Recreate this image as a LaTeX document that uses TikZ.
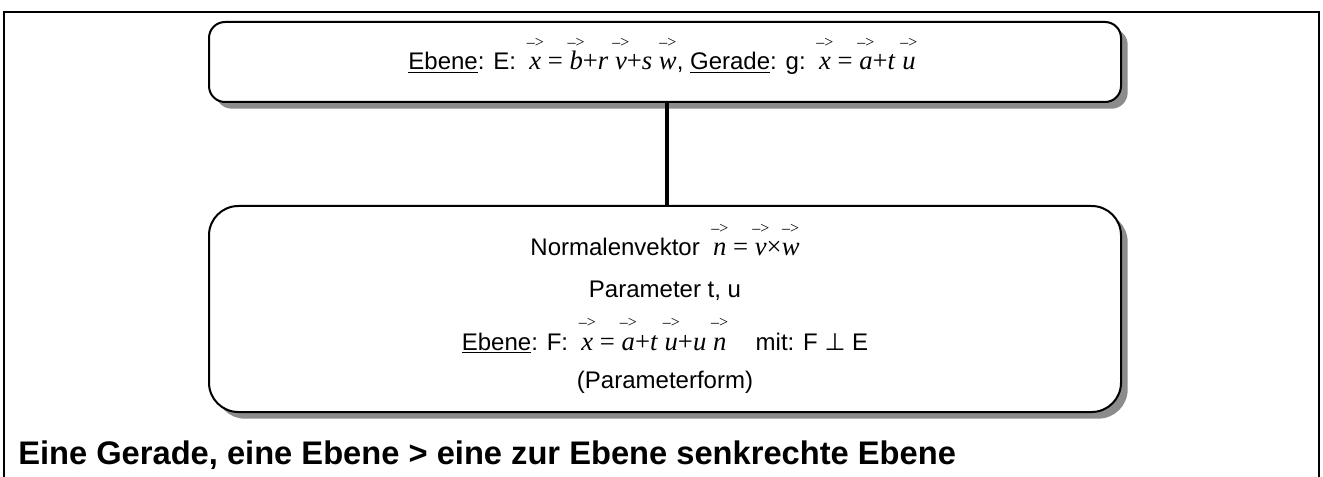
\documentclass[tikz,border=0pt]{standalone}
\usepackage{fontspec}
\setmainfont{Liberation Sans}
\newfontfamily\formfont{Liberation Serif}
\newfontfamily\symfont{DejaVu Sans}
\usetikzlibrary{shadows}

% vector letter with the small arrow high above it
\newcommand{\vek}[1]{\begingroup\sbox0{\textit{#1}}%
  \makebox[\wd0]{\raisebox{17pt}[0pt][0pt]{\makebox[0pt]{\fontsize{12}{12}\selectfont –>}}}%
  \kern-\wd0\usebox0\endgroup}
\newcommand{\frm}[1]{{\formfont\fontsize{20}{22}\selectfont #1}}

\begin{document}
\begin{tikzpicture}[
    x=0.75pt, y=-0.75pt,
    box/.style={draw, line width=1.5pt, fill=white, minimum width=684pt,
        drop shadow={shadow xshift=5pt, shadow yshift=-5pt, fill=gray!90, opacity=1}},
    lbl/.style={anchor=base, inner sep=0pt, font=\fontsize{18}{21}\selectfont},
    link/.style={line width=3.5pt},
]
\useasboundingbox (0,0) rectangle (1323,477);

% outer frame, open at the bottom
\draw[line width=1.5pt] (4,477) -- (4,12) -- (1319,12) -- (1319,477);

% ============ boxes ============
\node[box, rounded corners=12pt, minimum height=60pt] (top) at (665,62) {};
\node[box, rounded corners=22pt, minimum height=154.5pt] (bot) at (665,309) {};
\draw[link] (top.south -| 667,0) -- (bot.north -| 667,0);

% ============ texts ============
\node[lbl] (gl) at (662,70) {\underline{Ebene}: E:\ \ \frm{\vek{x} = \vek{b}+\textit{r} \vek{v}+\textit{s} \vek{w}}, \underline{Gerade}: g:\ \ \frm{\vek{x} = \vek{a}+\textit{t} \vek{u}}};

\node[lbl] (nv)  at (665,256) {Normalenvektor\ \ \frm{\vek{n} = \vek{v}×\vek{w}}};
\node[lbl] (par) at (665,297) {Parameter t, u};
\node[lbl] (ebf) at (665,350) {\underline{Ebene}: F:\ \ \frm{\vek{x} = \vek{a}+\textit{t} \vek{u}+\textit{u} \vek{n}}\hspace{22pt}mit: F {\symfont ⊥} E};
\node[lbl] (pf)  at (665,388) {(Parameterform)};

\node[anchor=base west, inner sep=0pt, font=\bfseries\fontsize{24.5}{28}\selectfont] (title) at (18,464) {Eine Gerade, eine Ebene > eine zur Ebene senkrechte Ebene};

\end{tikzpicture}
\end{document}
